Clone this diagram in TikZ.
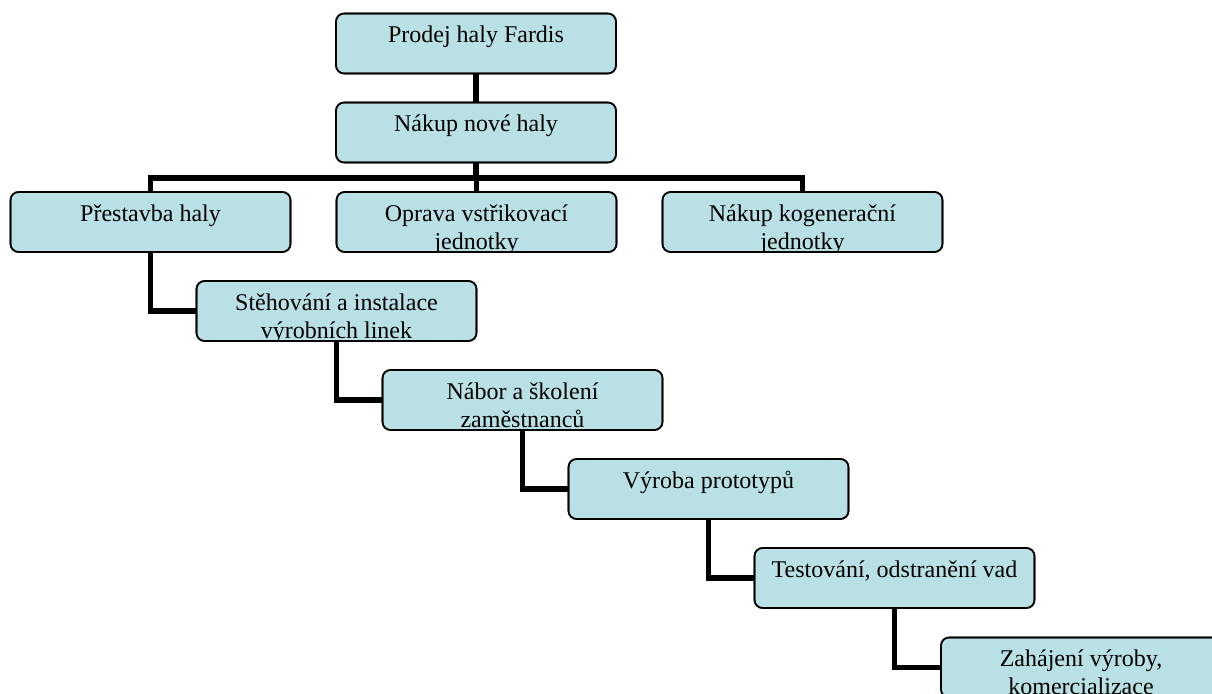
\documentclass[tikz,border=0pt]{standalone}
\usepackage{fontspec}
\setmainfont{Liberation Serif}
\definecolor{boxfill}{RGB}{185,224,228}
\tikzset{
  stepbox/.style={draw=black, line width=1.6pt, fill=boxfill, rounded corners=8pt,
    minimum width=280pt, minimum height=60pt, inner sep=0pt, outer sep=0pt},
  boxframe/.style={draw=black, line width=1.6pt, rounded corners=8pt},
  boxtext/.style={font=\fontsize{24}{28}\selectfont, align=center, inner sep=0pt, anchor=north},
  link/.style={line width=5.5pt, line join=miter}
}
% a task box whose text hangs from the top edge and is cut off by the frame
\newcommand\taskbox[3]{%
  \node[stepbox] (#1) at (#2) {};
  \begin{scope}
    \clip[rounded corners=8pt] (#1.south west) rectangle (#1.north east);
    \node[boxtext] (#1-text) at ([yshift=-9.5pt]#1.north) {\strut #3};
  \end{scope}
  \draw[boxframe] (#1.south west) rectangle (#1.north east);
}
\begin{document}
\begin{tikzpicture}[x=1pt, y=-1pt]
\useasboundingbox (0,0) rectangle (1212,693);
\clip (0,0) rectangle (1212,693);

\taskbox{b1}{476,43.5}{Prodej haly Fardis}
\taskbox{b2}{476,132.5}{Nákup nové haly}
\taskbox{pr}{150.5,222}{Přestavba haly}
\taskbox{op}{476.5,222}{Oprava vstřikovací\\jednotky}
\taskbox{nk}{802.5,222}{Nákup kogenerační\\jednotky}
\taskbox{st}{336.5,311}{Stěhování a instalace\\výrobních linek}
\taskbox{na}{522.5,400}{Nábor a školení\\zaměstnanců}
\taskbox{vy}{708.5,489}{Výroba prototypů}
\taskbox{te}{894.5,578}{Testování, odstranění vad}
\taskbox{za}{1081,667.5}{Zahájení výroby,\\komercializace}

% upper tree
\coordinate (bar) at (476,178);
\draw[link] (b1.south) -- (b2.north);
\draw[link] (b2.south) -- (b2.south |- bar);
\draw[link] (pr.north) |- (bar) -| (nk.north);
\draw[link] (op.north) -- (op.north |- bar);

% staircase of follow-up steps
\draw[link] (pr.south) |- (st.west);
\draw[link] (st.south) |- (na.west);
\draw[link] (na.south) |- (vy.west);
\draw[link] (vy.south) |- (te.west);
\draw[link] (te.south) |- (za.west);
\end{tikzpicture}
\end{document}
